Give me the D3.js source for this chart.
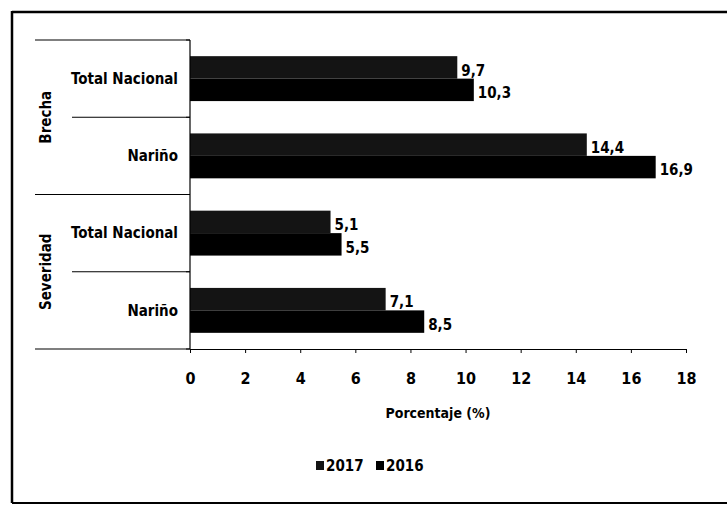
<!DOCTYPE html>
<html>
<head>
<meta charset="utf-8">
<script src="https://cdn.jsdelivr.net/npm/d3@7"></script>
<style>
  html, body { margin: 0; padding: 0; background: #fff; }
  svg { display: block; }
  text { font-family: "Liberation Sans Narrow", "DejaVu Sans Condensed", "Liberation Sans", sans-serif; font-weight: bold; fill: #000; }
</style>
</head>
<body>
<svg id="chart" width="727" height="507"></svg>
<script>
// ---- data ----
const groups = ["Brecha", "Brecha", "Severidad", "Severidad"];
const categories = ["Total Nacional", "Nariño", "Total Nacional", "Nariño"];
const seriesNames = ["2017", "2016"];
const values2017 = [9.7, 14.4, 5.1, 7.1];
const values2016 = [10.3, 16.9, 5.5, 8.5];
const xTicks = [0, 2, 4, 6, 8, 10, 12, 14, 16, 18];
const xTitle = "Porcentaje (%)";

// ---- setup ----
const svg = d3.select("#chart");
const colors = { "2017": "#141414", "2016": "#000000" };
const keys = categories.map((c, i) => i);

const x = d3.scaleLinear().domain([0, 18]).range([190, 686]);
const y = d3.scaleBand().domain(keys).range([40, 349]).paddingInner(0).paddingOuter(0);
const ySub = d3.scaleBand().domain(seriesNames).range([0, y.bandwidth()]).paddingInner(0).paddingOuter(0.72);

// outer frame (scan border)
svg.append("line").attr("x1", 12).attr("x2", 12).attr("y1", 11).attr("y2", 503).attr("stroke", "#000").attr("stroke-width", 2.5);
svg.append("line").attr("x1", 12).attr("x2", 727).attr("y1", 12).attr("y2", 12).attr("stroke", "#000").attr("stroke-width", 2.5);
svg.append("line").attr("x1", 12).attr("x2", 727).attr("y1", 503).attr("y2", 503).attr("stroke", "#000").attr("stroke-width", 2);

// bars
const data = [];
keys.forEach(i => {
  data.push({ i, s: "2017", v: values2017[i] });
  data.push({ i, s: "2016", v: values2016[i] });
});
svg.append("g").selectAll("rect").data(data).join("rect")
  .attr("x", x(0))
  .attr("y", d => y(d.i) + ySub(d.s))
  .attr("width", d => x(d.v) - x(0))
  .attr("height", ySub.bandwidth())
  .attr("fill", d => colors[d.s]);

// value labels
svg.append("g").selectAll("text").data(data).join("text")
  .attr("x", d => x(d.v) + 4)
  .attr("y", d => y(d.i) + ySub(d.s) + ySub.bandwidth() / 2 + 3)
  .attr("dy", "0.35em")
  .attr("font-size", 15)
  .text(d => String(d.v).replace(".", ","));

// x axis
const xAxis = d3.axisBottom(x).tickValues(xTicks).tickSize(4).tickPadding(20).tickSizeOuter(0)
  .tickFormat(d => d);
const gx = svg.append("g").attr("transform", "translate(0,349)").call(xAxis);
gx.select(".domain").attr("stroke", "#000").attr("stroke-width", 1.2);
gx.selectAll(".tick line").attr("stroke", "#000");
gx.selectAll(".tick text").attr("font-size", 16).attr("font-family", null).attr("fill", "#000");

// axis title
svg.append("text").attr("x", (x(0) + x(18)) / 2).attr("y", 418)
  .attr("text-anchor", "middle").attr("font-size", 14).text(xTitle);

// y axis line + ticks at band boundaries
svg.append("line").attr("x1", x(0)).attr("x2", x(0)).attr("y1", y.range()[0]).attr("y2", y.range()[1])
  .attr("stroke", "#000").attr("stroke-width", 1.2);
const bounds = keys.map(i => y(i)).concat([y.range()[1]]);
svg.append("g").selectAll("line").data(bounds).join("line")
  .attr("x1", x(0) - 4).attr("x2", x(0)).attr("y1", d => d).attr("y2", d => d)
  .attr("stroke", "#000");

// category grouping lines
bounds.forEach((b, j) => {
  const isGroupEdge = (j === 0 || j === bounds.length - 1 || groups[j] !== groups[j - 1]);
  svg.append("line")
    .attr("x1", isGroupEdge ? 35 : 72).attr("x2", x(0))
    .attr("y1", b).attr("y2", b)
    .attr("stroke", "#000").attr("stroke-width", 1.2);
});

// category labels
svg.append("g").selectAll("text").data(keys).join("text")
  .attr("x", 178)
  .attr("y", i => y(i) + y.bandwidth() / 2)
  .attr("dy", "0.35em")
  .attr("text-anchor", "end")
  .attr("font-size", 15)
  .text(i => categories[i]);

// group labels (rotated)
const groupNames = Array.from(new Set(groups));
groupNames.forEach(g => {
  const idx = keys.filter(i => groups[i] === g);
  const y0 = y(idx[0]);
  const y1 = y(idx[idx.length - 1]) + y.bandwidth();
  const cy = (y0 + y1) / 2;
  svg.append("text")
    .attr("transform", `translate(46,${cy}) rotate(-90)`)
    .attr("text-anchor", "middle")
    .attr("dy", "0.35em")
    .attr("font-size", 15)
    .text(g);
});

// legend
const legendY = 466;
const legend = svg.append("g");
let lx = 316;
seriesNames.forEach(s => {
  legend.append("rect").attr("x", lx).attr("y", legendY - 5).attr("width", 8).attr("height", 9).attr("fill", colors[s]);
  legend.append("text").attr("x", lx + 10).attr("y", legendY).attr("dy", "0.35em").attr("font-size", 15).text(s);
  lx += 60;
});
</script>
</body>
</html>
